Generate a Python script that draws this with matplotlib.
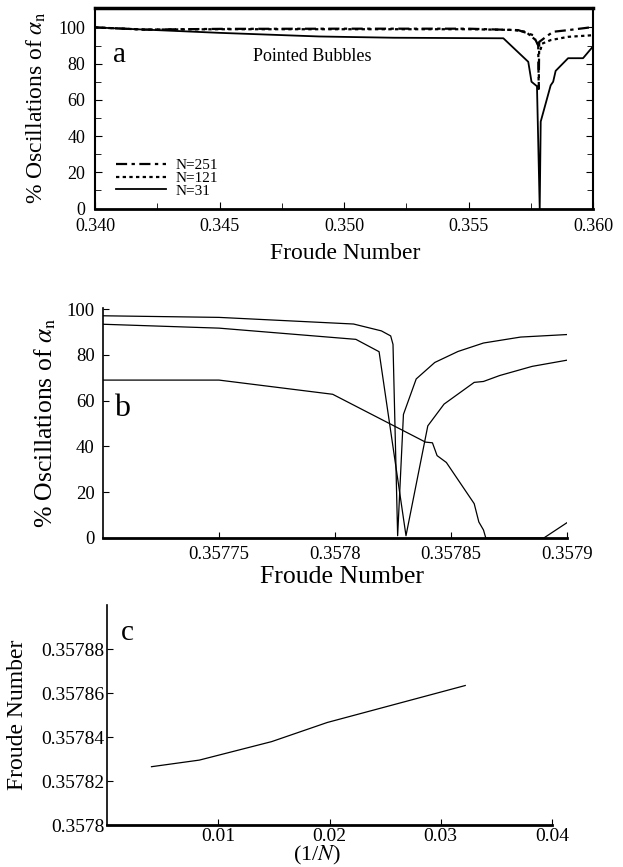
import matplotlib
matplotlib.use("Agg")
import matplotlib.pyplot as plt
from matplotlib.ticker import MultipleLocator, FixedLocator

plt.rcParams["font.family"] = ["Liberation Serif", "DejaVu Serif"]
plt.rcParams["mathtext.fontset"] = "stix"

# Panneau a : oscillations sur une large plage de Froude
fa_251 = [0.340, 0.342, 0.345, 0.350, 0.355, 0.3570, 0.3576, 0.3578, 0.35782, 0.35784, 0.3582, 0.3584, 0.3590, 0.3600]
pa_251 = [100, 98.8, 99.2, 99.3, 99.3, 98.5, 95.7, 90, 66, 92, 95.7, 97.6, 98.5, 100.2]

fa_121 = [0.340, 0.342, 0.345, 0.350, 0.355, 0.3568, 0.3573, 0.3577, 0.3579, 0.35795, 0.3583, 0.3590, 0.3600]
pa_121 = [100, 98.8, 99, 99, 99, 98.6, 97.6, 93, 88, 91, 93, 94.8, 95.7]

fa_31 = [0.340, 0.3425, 0.345, 0.349, 0.352, 0.3564, 0.3574, 0.35753, 0.35775, 0.35786, 0.3579, 0.3583, 0.3584, 0.3585, 0.3590, 0.3596, 0.3600]
pa_31 = [100, 98.5, 97, 95, 94.3, 94, 81, 70, 67.5, 0, 48, 68, 70, 76, 83, 83, 89.5]

# Panneau b : zoom autour du creux
fb_251 = [0.35770, 0.35775, 0.357808, 0.357820, 0.357824, 0.357825, 0.357827, 0.3578295, 0.357835, 0.357843, 0.357853, 0.357864, 0.357880, 0.357900]
pb_251 = [97.1, 96.4, 93.5, 90.5, 88.3, 84.6, 1, 54, 69.5, 76.7, 81.5, 85.2, 87.8, 88.9]

fb_121 = [0.35770, 0.35775, 0.357809, 0.357819, 0.3578306, 0.357840, 0.357847, 0.357860, 0.357864, 0.357871, 0.357885, 0.357900]
pb_121 = [93.4, 91.7, 86.8, 81.4, 1, 49, 58.5, 68, 68.4, 71, 75, 77.7]

fb_31 = [0.35770, 0.35775, 0.357799, 0.357839, 0.357842, 0.357844, 0.357848, 0.357860, 0.357862, 0.357864, 0.357865, 0.357890, 0.357900]
pb_31 = [69, 69, 62.8, 41.9, 41.6, 36, 33, 15, 7, 3.5, 0, 0, 6.7]

# Panneau c : Froude critique en fonction de 1/N
inv_n = [0.0040, 0.0083, 0.0148, 0.0198, 0.0260, 0.0322]
froude_c = [0.3578265, 0.3578295, 0.3578379, 0.3578466, 0.3578550, 0.3578634]

fig = plt.figure(figsize=(6.23, 8.67), dpi=100)

# ---- a ----
ax = fig.add_axes([95 / 623, 1 - 208.5 / 867, 498 / 623, 201 / 867])
ax.plot(fa_251, pa_251, color="black", lw=1.6, ls=(0, (5, 2, 1.5, 2)), label="N=251")
ax.plot(fa_121, pa_121, color="black", lw=1.6, ls=(0, (1.5, 1.5)), label="N=121")
ax.plot(fa_31, pa_31, color="black", lw=1.3, label="N=31")
ax.set_xlim(0.340, 0.360)
ax.set_ylim(0, 111)
ax.xaxis.set_major_locator(FixedLocator([0.340, 0.345, 0.350, 0.355, 0.360]))
ax.xaxis.set_minor_locator(FixedLocator([0.3425, 0.3475, 0.3525, 0.3575]))
ax.yaxis.set_major_locator(FixedLocator([0, 20, 40, 60, 80, 100]))
ax.yaxis.set_minor_locator(MultipleLocator(10))
ax.set_xticklabels(["0.340", "0.345", "0.350", "0.355", "0.360"])
ax.tick_params(which="both", direction="in", right=True, labelsize=13, pad=7)
ax.tick_params(which="major", length=5)
ax.tick_params(which="minor", length=4)
ax.spines["top"].set_linewidth(2.5)
ax.spines["bottom"].set_linewidth(2)
ax.spines["left"].set_linewidth(1.5)
ax.spines["right"].set_linewidth(1.5)
ax.set_xlabel("Froude Number", fontsize=17)
ax.set_ylabel(r"% Oscillations of $\alpha_{\rm n}$", fontsize=17)
ax.xaxis.set_label_coords(0.502, -0.172)
ax.yaxis.set_label_coords(-0.094, 0.5)
ax.text(0.05, 0.764, "a", transform=ax.transAxes, fontsize=21, ha="center", va="center")
ax.text(0.436, 0.754, "Pointed Bubbles", transform=ax.transAxes, fontsize=13, ha="center", va="center")
ax.legend(loc="lower left", bbox_to_anchor=(0.02, 0.0), frameon=False, fontsize=11,
          handlelength=3.3, handletextpad=0.6, labelspacing=-0.05, borderpad=0.2)

# ---- b ----
bx = fig.add_axes([103 / 623, 1 - 538 / 867, 464 / 623, 230 / 867])
for f, p in [(fb_251, pb_251), (fb_121, pb_121), (fb_31, pb_31)]:
    bx.plot(f, p, color="black", lw=0.9)
bx.set_xlim(0.35770, 0.35790)
bx.set_ylim(0, 100.5)
bx.xaxis.set_major_locator(FixedLocator([0.35775, 0.35780, 0.35785, 0.35790]))
bx.set_xticklabels(["0.35775", "0.3578", "0.35785", "0.3579"])
bx.yaxis.set_major_locator(FixedLocator([0, 20, 40, 60, 80, 100]))
bx.tick_params(direction="in", length=4, labelsize=13.5, pad=6)
bx.spines["top"].set_visible(False)
bx.spines["right"].set_visible(False)
bx.spines["bottom"].set_linewidth(2)
bx.spines["left"].set_linewidth(1.2)
bx.set_xlabel("Froude Number", fontsize=18.5)
bx.set_ylabel(r"% Oscillations of $\alpha_{\rm n}$", fontsize=18.5)
bx.xaxis.set_label_coords(0.516, -0.122)
bx.yaxis.set_label_coords(-0.098, 0.5)
bx.text(0.041, 0.565, "b", transform=bx.transAxes, fontsize=23, ha="center", va="center")

# ---- c ----
cx = fig.add_axes([107 / 623, 1 - 825 / 867, 445 / 623, 220 / 867])
cx.plot(inv_n, froude_c, color="black", lw=0.9)
cx.set_xlim(0, 0.04)
cx.set_ylim(0.3578, 0.3579)
cx.xaxis.set_major_locator(FixedLocator([0.01, 0.02, 0.03, 0.04]))
cx.set_xticklabels(["0.01", "0.02", "0.03", "0.04"])
cx.yaxis.set_major_locator(FixedLocator([0.3578, 0.35782, 0.35784, 0.35786, 0.35788]))
cx.set_yticklabels(["0.3578", "0.35782", "0.35784", "0.35786", "0.35788"])
cx.tick_params(direction="in", length=4, labelsize=14, pad=2)
cx.spines["top"].set_visible(False)
cx.spines["right"].set_visible(False)
cx.spines["bottom"].set_linewidth(2)
cx.spines["left"].set_linewidth(1.2)
cx.set_xlabel(r"(1/$N$)", fontsize=16)
cx.set_ylabel("Froude Number", fontsize=17)
cx.xaxis.set_label_coords(0.472, -0.085)
cx.yaxis.set_label_coords(-0.178, 0.5)
cx.text(0.045, 0.873, "c", transform=cx.transAxes, fontsize=21, ha="center", va="center")

fig.savefig("out.png", dpi=100)
